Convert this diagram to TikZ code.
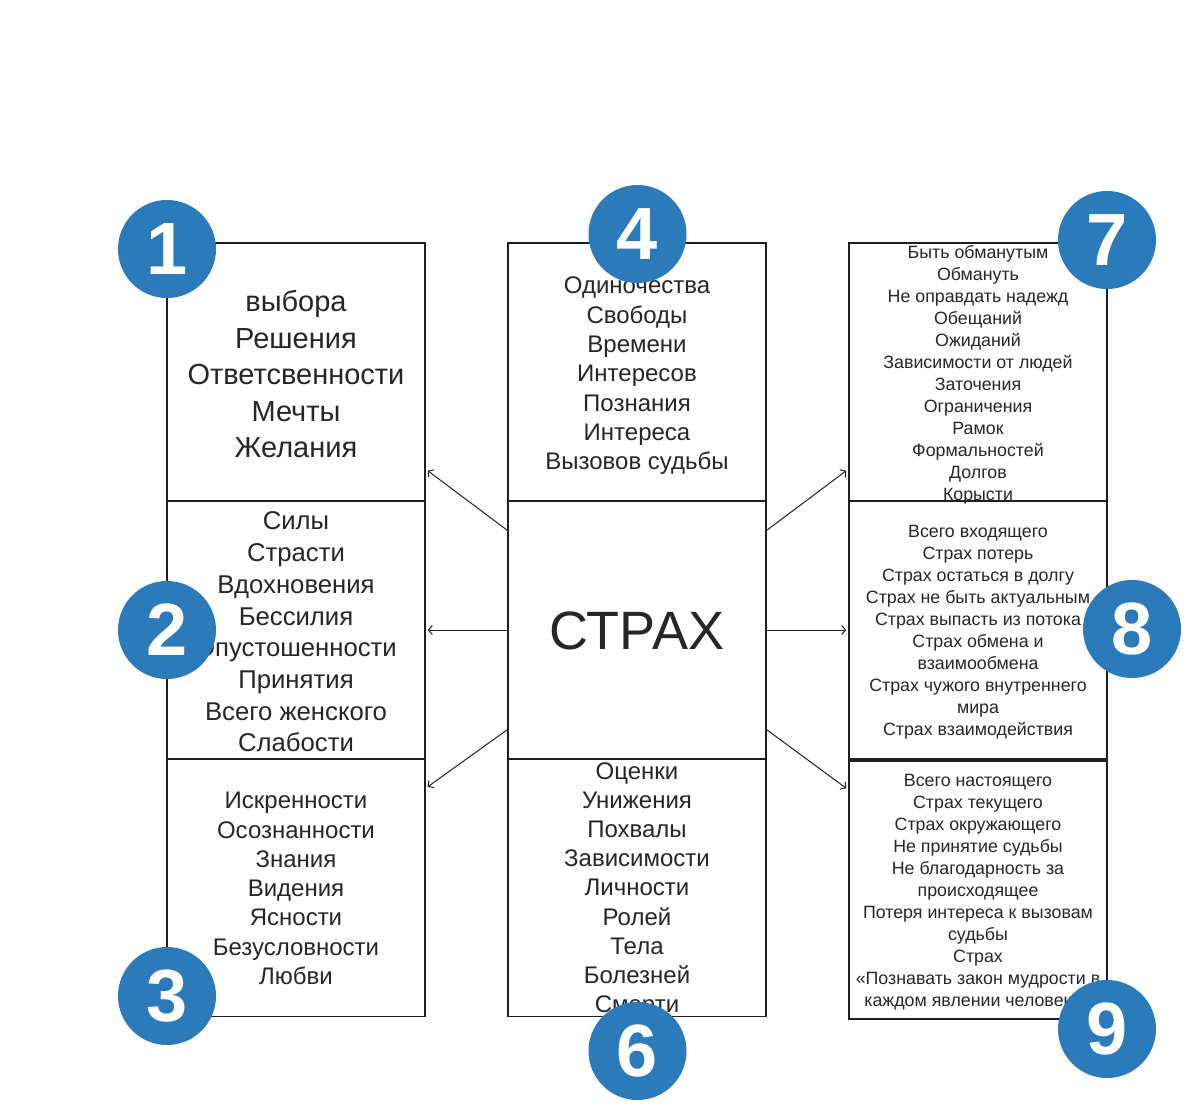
\documentclass[tikz,border=0pt]{standalone}
\usepackage{fontspec}
\setmainfont{Liberation Sans}
\usetikzlibrary{arrows.meta}
\definecolor{numblue}{HTML}{2B7BBA}
\definecolor{linec}{HTML}{1E1E1E}
\begin{document}
\begin{tikzpicture}[x=1pt,y=-1pt,
  box/.style={draw=linec,line width=1.4pt,minimum width=258pt,minimum height=258pt,inner sep=0pt},
  txt/.style={align=center,inner sep=0pt,text=black!85},
  numc/.style={circle,fill=numblue,minimum size=98pt,inner sep=0pt,text=white,font=\fontsize{74}{74}\selectfont\bfseries},
  arr/.style={draw=linec,line width=1pt,-{Straight Barb[length=4pt,width=9pt]}}]
\fill[white] (0,0) rectangle (1200,1119);
\useasboundingbox (0,0) rectangle (1200,1119);
% boxes
\node[box] (b1) at (296,372) {};
\node[box] (b2) at (296,630) {};
\node[box] (b3) at (296,887.5) {};
\node[box] (b4) at (637,372) {};
\node[box] (c5) at (637,630) {};
\node[box] (b6) at (637,887.5) {};
\node[box] (b7) at (978,372) {};
\node[box] (b8) at (978,630) {};
\node[box] (b9) at (978,890) {};
% texts
\node[txt,font=\fontsize{29}{36.5}\selectfont] (t1) at (296,374.5) {выбора\\Решения\\Ответсвенности\\Мечты\\Желания};
\node[txt,font=\fontsize{25.7}{31.7}\selectfont] (t2) at (296,632) {Силы\\Страсти\\Вдохновения\\Бессилия\\Опустошенности\\Принятия\\Всего женского\\Слабости};
\node[txt,font=\fontsize{24}{29.3}\selectfont] (t3) at (296,888.5) {Искренности\\Осознанности\\Знания\\Видения\\Ясности\\Безусловности\\Любви};
\node[txt,font=\fontsize{24}{29.3}\selectfont] (t4) at (637,376) {Одиночества\\Свободы\\Времени\\Интересов\\Познания\\Интереса\\Вызовов судьбы};
\node[txt,font=\fontsize{54}{54}\selectfont] (t5) at (637,631) {СТРАХ};
\node[txt,font=\fontsize{24}{29.1}\selectfont] (t6) at (637,890) {Оценки\\Унижения\\Похвалы\\Зависимости\\Личности\\Ролей\\Тела\\Болезней\\Смерти};
\node[txt,font=\fontsize{17.8}{22}\selectfont] (t7) at (978,375) {Быть обманутым\\Обмануть\\Не оправдать надежд\\Обещаний\\Ожиданий\\Зависимости от людей\\Заточения\\Ограничения\\Рамок\\Формальностей\\Долгов\\Корысти};
\node[txt,font=\fontsize{17.8}{22}\selectfont] (t8) at (978,632.5) {Всего входящего\\Страх потерь\\Страх остаться в долгу\\Страх не быть актуальным\\Страх выпасть из потока\\Страх обмена и\\взаимообмена\\Страх чужого внутреннего\\мира\\Страх взаимодействия};
\node[txt,font=\fontsize{17.8}{22}\selectfont] (t9) at (978,892) {Всего настоящего\\Страх текущего\\Страх окружающего\\Не принятие судьбы\\Не благодарность за\\происходящее\\Потеря интереса к вызовам\\судьбы\\Страх\\«Познавать закон мудрости в\\каждом явлении человека»};
% arrows
\draw[arr] ([yshift=-30pt]c5.north west) -- ([xshift=2pt,yshift=31pt]b1.south east);
\draw[arr] (c5.west) -- ([xshift=2pt]b2.east);
\draw[arr] ([yshift=30pt]c5.south west) -- ([xshift=2pt,yshift=-29pt]b3.north east);
\draw[arr] ([yshift=-30pt]c5.north east) -- ([xshift=-2pt,yshift=31pt]b7.south west);
\draw[arr] (c5.east) -- ([xshift=-2pt]b8.west);
\draw[arr] ([yshift=30pt]c5.south east) -- ([xshift=-2pt,yshift=-28pt]b9.north west);
% number circles
\node[numc] (n1) at (167,249) {1};
\node[numc] (n2) at (167,630) {2};
\node[numc] (n3) at (167,996) {3};
\node[numc] (n4) at (637.5,234) {4};
\node[numc] (n6) at (637.5,1051) {6};
\node[numc] (n7) at (1107,240) {7};
\node[numc] (n8) at (1132,629) {8};
\node[numc] (n9) at (1107,1029) {9};
\end{tikzpicture}
\end{document}
